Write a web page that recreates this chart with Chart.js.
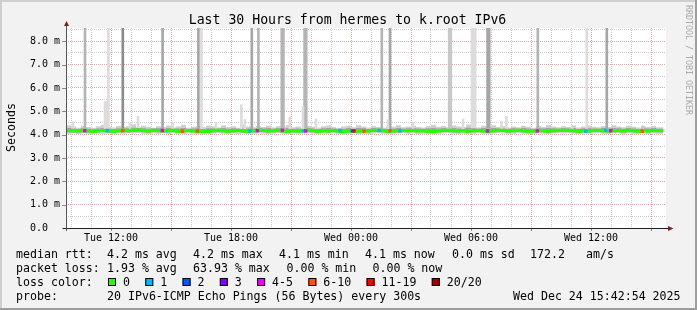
<!DOCTYPE html>
<html>
<head>
<meta charset="utf-8">
<script src="https://cdn.jsdelivr.net/npm/chart.js@4/dist/chart.umd.min.js"></script>
<style>
html,body{margin:0;padding:0;background:#f2f2f2;overflow:hidden;}
canvas{display:block;}
</style>
</head>
<body>
<canvas id="c" width="697" height="310"></canvas>
<script>
// ---------------- data ----------------
const titleText = 'Last 30 Hours from hermes to k.root IPv6';
const yAxisTitle = 'Seconds';
const watermarkText = 'RRDTOOL / TOBI OETIKER';

// time in hours counted from Tue 00:00
const startHour = 9.75;
const endHour = 39.75;
const dataEndHour = 39.62;
const slotHours = 0.25;

const xLabelHours = [12, 18, 24, 30, 36];
const xLabelTexts = ['Tue 12:00', 'Tue 18:00', 'Wed 00:00', 'Wed 06:00', 'Wed 12:00'];
const yMaxMs = 8.57;
const yLabelValues = [0, 1, 2, 3, 4, 5, 6, 7, 8];
const yLabelTexts = ['0.0  ', '1.0 m', '2.0 m', '3.0 m', '4.0 m', '5.0 m', '6.0 m', '7.0 m', '8.0 m'];

// median rtt (ms), one value per 15 minutes
const medianMs = [
 4.17,4.18,4.16,4.17,4.19,4.16,4.15,4.17,4.18,4.16,
 4.15,4.17,4.19,4.17,4.19,4.20,4.18,4.16,4.19,4.18,
 4.16,4.17,4.19,4.15,4.17,4.18,4.16,4.15,4.14,4.15,
 4.17,4.19,4.17,4.15,4.17,4.18,4.16,4.15,4.17,4.19,
 4.18,4.16,4.17,4.19,4.16,4.15,4.17,4.16,4.18,4.19,
 4.17,4.15,4.17,4.16,4.18,4.16,4.14,4.16,4.17,4.15,
 4.17,4.16,4.18,4.19,4.17,4.15,4.16,4.17,4.18,4.17,
 4.18,4.16,4.17,4.15,4.14,4.16,4.18,4.19,4.17,4.16,
 4.17,4.15,4.17,4.18,4.16,4.15,4.17,4.19,4.18,4.16,
 4.17,4.19,4.17,4.15,4.16,4.18,4.17,4.15,4.17,4.19,
 4.18,4.19,4.17,4.15,4.17,4.16,4.18,4.19,4.17,4.16,
 4.17,4.18,4.16,4.19,4.17,4.15,4.17,4.16,4.18,4.17
];
// smoke: lowest / highest ping, and inner (darker) band, per 15 minutes
const smokeMinMs = [
 4.05,4.04,4.06,4.03,4.05,4.04,4.02,4.05,4.04,4.06,
 4.03,4.05,4.04,4.06,4.05,4.07,4.04,4.03,4.05,4.04,
 4.06,4.03,4.05,4.04,4.02,4.05,4.04,4.03,4.01,4.03,
 4.05,4.06,4.04,4.03,4.05,4.04,4.06,4.03,4.04,4.05,
 4.04,4.03,4.05,4.06,4.04,4.02,4.05,4.04,4.05,4.06,
 4.04,4.03,4.05,4.04,4.05,4.03,4.02,4.04,4.05,4.03,
 4.04,4.03,4.05,4.06,4.04,4.03,4.04,4.05,4.06,4.04,
 4.05,4.03,4.04,4.03,4.02,4.04,4.05,4.06,4.04,4.03,
 4.05,4.03,4.04,4.06,4.04,4.03,4.05,4.06,4.05,4.03,
 4.04,4.06,4.05,4.03,4.04,4.05,4.04,4.03,4.05,4.06,
 4.05,4.06,4.04,4.03,4.05,4.04,4.05,4.06,4.04,4.03,
 4.05,4.06,4.03,4.06,4.04,4.03,4.05,4.04,4.05,4.04
];
const smokeMaxMs = [
 4.32,4.40,4.35,4.30,4.38,4.33,4.30,4.36,4.42,4.34,
 4.31,4.37,4.33,4.36,4.45,4.32,4.38,4.34,4.30,4.36,
 4.33,4.39,4.31,4.35,4.42,4.30,4.34,4.37,4.32,4.38,
 4.35,4.31,4.40,4.33,4.36,4.30,4.44,4.35,4.32,4.37,
 4.33,4.38,4.31,4.36,4.34,4.41,4.32,4.35,4.30,4.37,
 4.34,4.31,4.36,4.39,4.33,4.30,4.35,4.38,4.32,4.40,
 4.35,4.31,4.37,4.33,4.30,4.36,4.34,4.40,4.32,4.35,
 4.38,4.33,4.31,4.36,4.42,4.34,4.37,4.32,4.39,4.35,
 4.33,4.44,4.36,4.31,4.38,4.34,4.40,4.33,4.36,4.31,
 4.35,4.32,4.38,4.34,4.30,4.37,4.33,4.41,4.35,4.32,
 4.36,4.33,4.39,4.31,4.35,4.38,4.34,4.32,4.37,4.33,
 4.40,4.35,4.32,4.38,4.34,4.31,4.36,4.33,4.37,4.32
];
const smokeLowerMs = [
 4.10,4.09,4.10,4.08,4.10,4.09,4.08,4.10,4.11,4.09,
 4.08,4.10,4.11,4.10,4.11,4.12,4.10,4.09,4.11,4.10,
 4.09,4.10,4.11,4.08,4.10,4.11,4.09,4.08,4.07,4.08,
 4.10,4.11,4.10,4.08,4.10,4.11,4.09,4.08,4.10,4.11,
 4.11,4.09,4.10,4.11,4.09,4.08,4.10,4.09,4.11,4.11,
 4.10,4.08,4.10,4.09,4.11,4.09,4.07,4.09,4.10,4.08,
 4.10,4.09,4.11,4.11,4.10,4.08,4.09,4.10,4.11,4.10,
 4.11,4.09,4.10,4.08,4.07,4.09,4.11,4.11,4.10,4.09,
 4.10,4.08,4.10,4.11,4.09,4.08,4.10,4.11,4.11,4.09,
 4.10,4.11,4.10,4.08,4.09,4.11,4.10,4.08,4.10,4.11,
 4.11,4.11,4.10,4.08,4.10,4.09,4.11,4.11,4.10,4.09,
 4.10,4.11,4.09,4.11,4.10,4.08,4.10,4.09,4.11,4.10
];
const smokeUpperMs = [
 4.25,4.28,4.26,4.24,4.27,4.25,4.23,4.26,4.28,4.25,
 4.24,4.27,4.26,4.27,4.30,4.28,4.27,4.25,4.26,4.27,
 4.25,4.28,4.25,4.26,4.29,4.24,4.26,4.27,4.24,4.27,
 4.27,4.26,4.29,4.25,4.27,4.25,4.30,4.26,4.25,4.28,
 4.26,4.28,4.25,4.27,4.26,4.29,4.25,4.26,4.24,4.28,
 4.26,4.24,4.27,4.28,4.26,4.24,4.25,4.28,4.25,4.29,
 4.27,4.24,4.28,4.26,4.24,4.27,4.26,4.29,4.25,4.27,
 4.28,4.26,4.25,4.27,4.29,4.26,4.28,4.25,4.28,4.26,
 4.26,4.30,4.27,4.25,4.28,4.26,4.29,4.26,4.27,4.25,
 4.27,4.25,4.28,4.26,4.24,4.28,4.26,4.29,4.27,4.25,
 4.28,4.26,4.29,4.24,4.27,4.28,4.26,4.25,4.28,4.26,
 4.29,4.27,4.25,4.28,4.26,4.24,4.27,4.26,4.28,4.25
];

// single ping outliers above the smoke band: time, highest ping (ms), number of high pings
const outlierHours = [
 10.70, 11.70, 11.78, 11.87, 12.59, 14.58, 16.37, 16.52, 19.04, 19.37,
 20.54, 20.62, 21.68, 21.76, 25.54, 25.95, 28.91, 28.99, 30.05, 30.13,
 30.21, 30.83, 30.91, 33.34, 35.79, 36.79,
 10.10, 12.95, 13.35, 15.08, 17.25, 18.52, 18.69, 20.94, 21.60, 22.25,
 25.85, 27.10, 29.60, 31.52, 31.77, 35.05, 38.60
];
const outlierTopMs = [
 30, 5.42, 5.42, 30, 30, 30, 30, 30, 30, 30,
 30, 30, 30, 30, 30, 30, 30, 30, 30, 30,
 30, 30, 30, 30, 30, 30,
 4.56, 4.49, 4.78, 4.50, 4.52, 5.28, 4.64, 4.75, 5.20, 4.67,
 4.64, 4.52, 4.67, 4.56, 4.78, 4.40, 4.38
];
const outlierPings = [
 3, 1, 1, 1, 5, 4, 4, 1, 4, 3,
 3, 3, 3, 3, 3, 4, 2, 2, 1, 1,
 1, 4, 4, 3, 1, 4,
 1, 1, 1, 1, 1, 1, 1, 1, 1, 1,
 1, 1, 1, 1, 1, 1, 2
];

// samples with packet loss: time, lost pings of 20
const lossHours = [
 10.685, 11.815, 12.585, 14.565, 15.565, 16.315, 18.95, 19.315, 20.565, 21.625,
 21.735, 23.45, 24.065, 24.15, 24.65, 25.40, 25.95, 26.45, 30.825, 33.315,
 35.735, 36.735, 36.985, 38.565
];
const lossPings = [
 4, 1, 7, 4, 7, 7, 1, 4, 4, 1,
 4, 1, 2, 13, 7, 1, 7, 1, 4, 4,
 1, 1, 4, 7
];

const rttLabel = 'median rtt:';
const rttStats = ['4.2 ms avg', '4.2 ms max', '4.1 ms min', '4.1 ms now', '0.0 ms sd', '172.2', 'am/s'];
const lossLabel = 'packet loss:';
const lossStats = ['1.93 % avg', '63.93 % max', '0.00 % min', '0.00 % now'];
const lossColorLabel = 'loss color:';
const lossLegendLabels = ['0', '1', '2', '3', '4-5', '6-10', '11-19', '20/20'];
const lossLegendUpTo = [0, 1, 2, 3, 5, 10, 19, 20];
const probeLabel = 'probe:';
const probeText = '20 IPv6-ICMP Echo Pings (56 Bytes) every 300s';
const dateText = 'Wed Dec 24 15:42:54 2025';

// ---------------- styles ----------------
const FONT = '"DejaVu Sans Mono", "Liberation Mono", monospace';
const LOSS_COLORS = ['#26ff00', '#00b8ff', '#0059ff', '#7e00ff', '#ee00ee', '#ff5500', '#ff0000', '#a10000'];
const SHADES = {1: '#dcdcdc', 2: '#c8c8c8', 3: '#b4b4b4', 4: '#a6a6a6', 5: '#8c8c8c'};
const SMOKE_LIGHT = '#d0d0d0';
const SMOKE_CORE = '#a4a4a4';
const GRID = '#cfcfcf';
const MGRID = '#e8a4a4';
const ARROW = '#801f1f';
const AXIS = '#202020';

function lossColor(n) {
  for (let i = 0; i < lossLegendUpTo.length; i++) if (n <= lossLegendUpTo[i]) return LOSS_COLORS[i];
  return LOSS_COLORS[LOSS_COLORS.length - 1];
}
function slotOf(h) {
  return Math.max(0, Math.min(medianMs.length - 1, Math.floor((h - startHour) / slotHours)));
}
function stepPoints(values) {
  const pts = values.map((v, i) => ({x: startHour + i * slotHours, y: v}));
  pts.push({x: dataEndHour, y: values[values.length - 1]});
  return pts;
}
const xGridHours = [];
for (let h = Math.ceil(startHour); h < endHour; h++) xGridHours.push(h);
const yGridMs = [];
for (let v = 0; v < yMaxMs; v += 0.5) yGridMs.push(v);

const rrdPlugin = {
  id: 'rrd',
  beforeDraw(chart) {
    const {ctx, chartArea: a} = chart;
    ctx.save();
    ctx.fillStyle = '#f2f2f2';
    ctx.fillRect(0, 0, 697, 310);
    ctx.fillStyle = '#cfcfcf';
    ctx.fillRect(0, 0, 697, 2);
    ctx.fillRect(0, 0, 2, 310);
    ctx.fillStyle = '#9e9e9e';
    ctx.fillRect(0, 308, 697, 2);
    ctx.fillRect(695, 0, 2, 310);
    ctx.fillStyle = '#ffffff';
    ctx.fillRect(a.left, a.top, a.right - a.left, a.bottom - a.top);
    ctx.restore();
  },
  afterDraw(chart) {
    const {ctx, chartArea: a} = chart;
    const xs = chart.scales.x, ys = chart.scales.y;
    ctx.save();
    // tick marks
    ctx.lineWidth = 1;
    ctx.strokeStyle = '#8a8a8a';
    xGridHours.forEach(h => {
      if (h % 3 !== 0) return;
      const px = Math.round(xs.getPixelForValue(h)) + 0.5;
      ctx.beginPath(); ctx.moveTo(px, a.bottom); ctx.lineTo(px, a.bottom + 3); ctx.stroke();
    });
    yLabelValues.forEach(v => {
      const py = Math.round(ys.getPixelForValue(v)) + 0.5;
      ctx.beginPath(); ctx.moveTo(a.left - 4, py); ctx.lineTo(a.left, py); ctx.stroke();
    });
    // axes
    ctx.strokeStyle = AXIS;
    const y0 = Math.round(ys.getPixelForValue(0)) + 0.5;
    ctx.beginPath(); ctx.moveTo(a.left - 3, y0); ctx.lineTo(a.right + 2, y0); ctx.stroke();
    ctx.strokeStyle = '#555555';
    ctx.beginPath(); ctx.moveTo(a.left + 0.5, a.bottom + 3); ctx.lineTo(a.left + 0.5, a.top - 2); ctx.stroke();
    // arrows
    ctx.fillStyle = ARROW;
    ctx.beginPath(); ctx.moveTo(a.left + 0.5, a.top - 7); ctx.lineTo(a.left + 3, a.top - 2); ctx.lineTo(a.left - 2, a.top - 2); ctx.closePath(); ctx.fill();
    ctx.beginPath(); ctx.moveTo(a.right + 7.5, y0); ctx.lineTo(a.right + 2, y0 - 2.5); ctx.lineTo(a.right + 2, y0 + 2.5); ctx.closePath(); ctx.fill();

    // title
    ctx.fillStyle = '#000';
    ctx.textBaseline = 'alphabetic';
    ctx.textAlign = 'center';
    ctx.font = '13.2px ' + FONT;
    ctx.fillText(titleText, 347.5, 23.5);

    // y axis title
    ctx.font = '11.6px ' + FONT;
    ctx.save();
    ctx.translate(11.5, 127.5);
    ctx.rotate(-Math.PI / 2);
    ctx.textAlign = 'center';
    ctx.textBaseline = 'middle';
    ctx.fillText(yAxisTitle, 0, 0);
    ctx.restore();

    // watermark
    ctx.save();
    ctx.fillStyle = '#a9a9a9';
    ctx.font = '8.3px ' + FONT;
    ctx.translate(688, 5);
    ctx.rotate(Math.PI / 2);
    ctx.textAlign = 'left';
    ctx.textBaseline = 'middle';
    ctx.fillText(watermarkText, 0, 0);
    ctx.restore();

    // legend
    ctx.fillStyle = '#000';
    ctx.textAlign = 'left';
    ctx.textBaseline = 'alphabetic';
    ctx.font = '11.6px ' + FONT;
    const r1 = 258.3, r2 = 272.3, r3 = 286.3, r4 = 300.3;
    ctx.fillText(rttLabel, 16, r1);
    [107, 193, 279, 365, 452, 530, 586].forEach((x, i) => ctx.fillText(rttStats[i], x, r1));
    ctx.fillText(lossLabel, 16, r2);
    [107, 193, 286.5, 372.5].forEach((x, i) => ctx.fillText(lossStats[i], x, r2));
    ctx.fillText(lossColorLabel, 16, r3);
    let bx = 108;
    lossLegendLabels.forEach((lab, i) => {
      ctx.fillStyle = LOSS_COLORS[i];
      ctx.fillRect(bx, 278, 8, 8);
      ctx.strokeStyle = '#000';
      ctx.lineWidth = 1;
      ctx.strokeRect(bx + 0.5, 278.5, 7, 7);
      ctx.fillStyle = '#000';
      const lx = bx + 15;
      ctx.fillText(lab, lx, r3);
      bx = lx + ctx.measureText(lab).width + 15.3;
    });
    ctx.fillText(probeLabel, 16, r4);
    ctx.fillText(probeText, 107, r4);
    ctx.fillText(dateText, 513, r4);
    ctx.restore();
  }
};

const lineBase = {type: 'line', stepped: 'after', borderWidth: 0, pointRadius: 0, tension: 0};

new Chart(document.getElementById('c'), {
  type: 'line',
  data: {
    datasets: [
      Object.assign({}, lineBase, {data: stepPoints(smokeMinMs), fill: false, order: 10}),
      Object.assign({}, lineBase, {data: stepPoints(smokeMaxMs), fill: '-1', backgroundColor: SMOKE_LIGHT, order: 9}),
      Object.assign({}, lineBase, {data: stepPoints(smokeLowerMs), fill: false, order: 8}),
      Object.assign({}, lineBase, {data: stepPoints(smokeUpperMs), fill: '-1', backgroundColor: SMOKE_CORE, order: 7}),
      {
        type: 'bar',
        data: outlierHours.map((h, i) => ({x: h, y: [smokeUpperMs[slotOf(h)], outlierTopMs[i]]})),
        backgroundColor: c => SHADES[outlierPings[c.dataIndex]],
        borderWidth: 0,
        barThickness: 2,
        grouped: false,
        order: 5
      },
      Object.assign({}, lineBase, {data: stepPoints(medianMs), fill: false, borderColor: LOSS_COLORS[0], borderWidth: 3, order: 2}),
      {
        type: 'line',
        showLine: false,
        data: lossHours.map(h => ({x: h, y: medianMs[slotOf(h)]})),
        pointStyle: 'rect',
        pointRadius: 2.4,
        pointBorderWidth: 0,
        pointBackgroundColor: c => lossColor(lossPings[c.dataIndex]),
        order: 1
      }
    ]
  },
  options: {
    responsive: false,
    animation: false,
    devicePixelRatio: 1,
    events: [],
    layout: {padding: {left: 0, right: 31, top: 28, bottom: 0}},
    plugins: {legend: {display: false}, tooltip: {enabled: false}, title: {display: false}},
    scales: {
      x: {
        type: 'linear',
        min: startHour,
        max: endHour,
        offset: false,
        afterFit: s => { s.height = 82; },
        afterBuildTicks: s => { s.ticks = xGridHours.map(v => ({value: v})); },
        ticks: {
          autoSkip: false, maxRotation: 0, minRotation: 0, padding: 4,
          color: '#000', font: {family: FONT, size: 10},
          callback: v => { const i = xLabelHours.indexOf(v); return i >= 0 ? xLabelTexts[i] : ''; }
        },
        grid: {offset: false, drawTicks: false, lineWidth: 1, color: c => (c.tick && c.tick.value % 3 === 0) ? MGRID : GRID},
        border: {display: false, dash: [1, 1]}
      },
      y: {
        type: 'linear',
        min: 0,
        max: yMaxMs,
        afterFit: s => { s.width = 66; },
        afterBuildTicks: s => { s.ticks = yGridMs.map(v => ({value: v})); },
        ticks: {
          autoSkip: false, padding: 6,
          color: '#000', font: {family: FONT, size: 10},
          callback: v => { const i = yLabelValues.indexOf(v); return i >= 0 ? yLabelTexts[i] : ''; }
        },
        grid: {drawTicks: false, lineWidth: 1, color: c => (c.tick && Number.isInteger(c.tick.value)) ? MGRID : GRID},
        border: {display: false, dash: [1, 1]}
      }
    }
  },
  plugins: [rrdPlugin]
});
</script>
</body>
</html>
